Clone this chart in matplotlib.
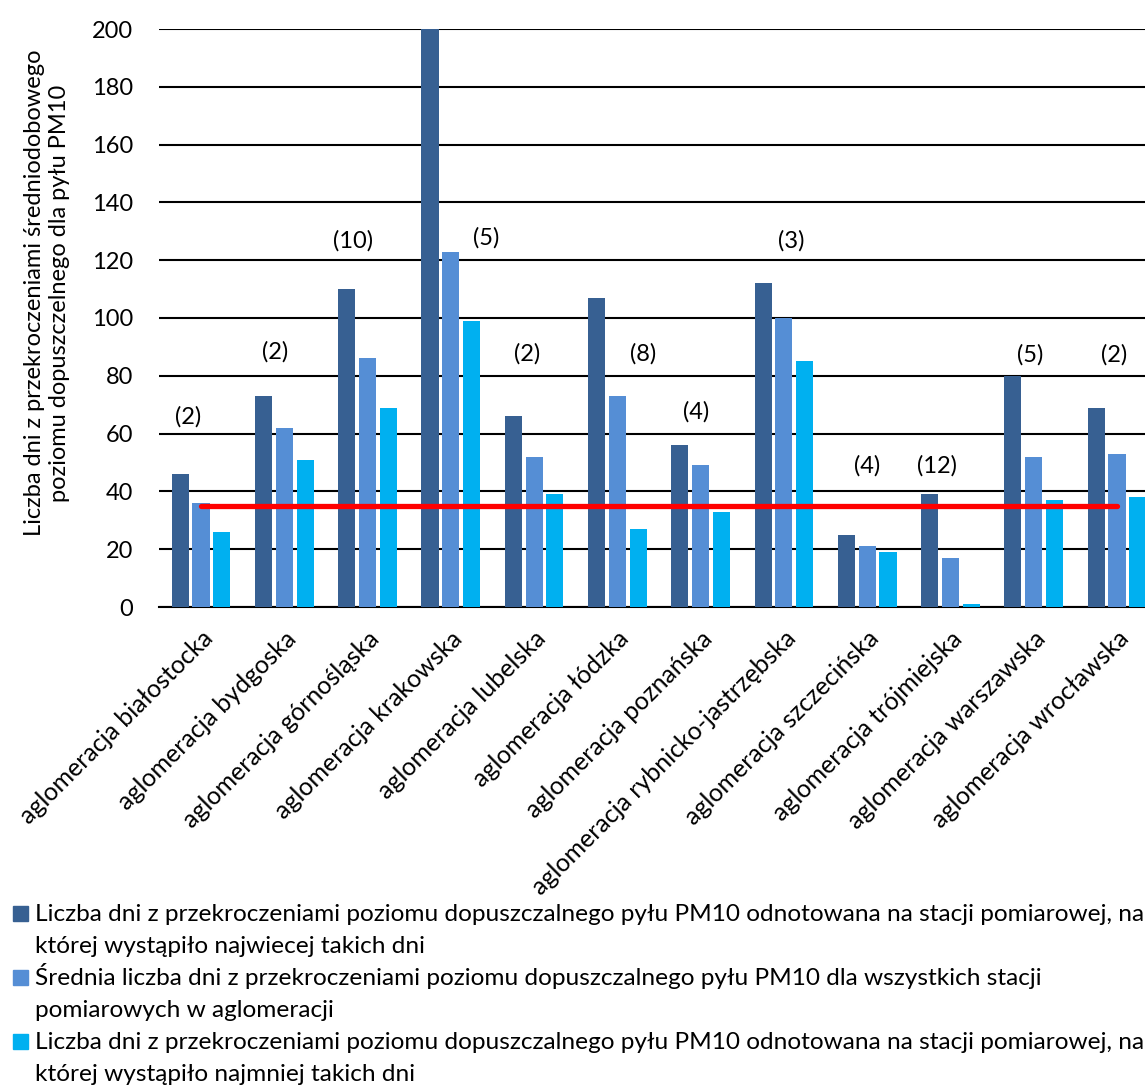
import matplotlib
matplotlib.use("Agg")
import matplotlib.pyplot as plt
import matplotlib.transforms as mtransforms
from matplotlib.patches import Rectangle
import numpy as np

plt.rcParams['font.family'] = ['Lato', 'DejaVu Sans']

# --- data ---
agglomerations = [
    "aglomeracja białostocka", "aglomeracja bydgoska", "aglomeracja górnośląska",
    "aglomeracja krakowska", "aglomeracja lubelska", "aglomeracja łódzka",
    "aglomeracja poznańska", "aglomeracja rybnicko-jastrzębska",
    "aglomeracja szczecińska", "aglomeracja trójmiejska",
    "aglomeracja warszawska", "aglomeracja wrocławska",
]
max_station = [46, 73, 110, 200, 66, 107, 56, 112, 25, 39, 80, 69]
mean_stations = [36, 62, 86, 123, 52, 73, 49, 100, 21, 17, 52, 53]
min_station = [26, 51, 69, 99, 39, 27, 33, 85, 19, 1, 37, 38]
station_counts = [2, 2, 10, 5, 2, 8, 4, 3, 4, 12, 5, 2]
limit_days = 35

series_labels = [
    ["Liczba dni z przekroczeniami poziomu dopuszczalnego pyłu PM10 odnotowana na stacji pomiarowej, na",
     "której wystąpiło najwiecej takich dni"],
    ["Średnia liczba dni z przekroczeniami poziomu dopuszczalnego pyłu PM10 dla wszystkich stacji",
     "pomiarowych w aglomeracji"],
    ["Liczba dni z przekroczeniami poziomu dopuszczalnego pyłu PM10 odnotowana na stacji pomiarowej, na",
     "której wystąpiło najmniej takich dni"],
]
y_title = "Liczba dni z przekroczeniami średniodobowego\npoziomu dopuszczelnego dla pyłu PM10"
y_ticks = list(range(0, 201, 20))

# --- styling ---
colors = ["#376092", "#558ED5", "#00B0F0"]
count_label_pos = [(-0.15, 65.7), (-0.11, 88.2), (-0.17, 126.6), (0.42, 127.7),
                   (-0.08, 87.7), (0.31, 87.7), (-0.06, 67.5), (0.09, 126.6),
                   (0.0, 48.8), (-0.16, 48.8), (-0.04, 87.4), (-0.03, 87.4)]
FS = 17
FS_CAT = 18
FS_LEG = 17.6

W, H = 1145, 1086
fig = plt.figure(figsize=(W / 100, H / 100), dpi=100)
ax = fig.add_axes([159.4 / W, (H - 607) / H, 999.2 / W, 578 / H])

x = np.arange(len(agglomerations))
bar_w = 0.205
step = 0.25
for i, (vals, c) in enumerate(zip([max_station, mean_stations, min_station], colors)):
    ax.bar(x + (i - 1) * step, vals, width=bar_w, color=c, zorder=3)

ax.plot([x[0], x[-1]], [limit_days, limit_days], color="#FF0000", lw=3.8,
        solid_capstyle="round", zorder=4)

for xi, n, (dx, yv) in zip(x, station_counts, count_label_pos):
    ax.text(xi + dx, yv, f"({n})", ha="center", va="center", fontsize=FS, zorder=5)

ax.set_xlim(-0.5, len(agglomerations) - 0.5)
ax.set_ylim(0, 200)
ax.set_yticks(y_ticks)
ax.set_yticklabels([str(t) for t in y_ticks], fontsize=FS)
ax.tick_params(axis="y", length=0, pad=19)
ax.tick_params(axis="x", length=0, pad=0)
ax.grid(axis="y", color="black", lw=1.5, zorder=1)
ax.set_axisbelow(True)
for s in ["top", "right", "left"]:
    ax.spines[s].set_visible(False)
ax.spines["bottom"].set_color("black")
ax.spines["bottom"].set_linewidth(1.5)

ax.set_xticks(x)
ax.set_xticklabels(agglomerations, fontsize=FS_CAT, rotation=45, ha="right",
                   va="center", rotation_mode="anchor")
offset = mtransforms.ScaledTranslation(8 / 100, -28 / 100, fig.dpi_scale_trans)
for lbl in ax.get_xticklabels():
    lbl.set_transform(lbl.get_transform() + offset)

fig.text(47 / W, 1 - 293 / H, y_title, rotation=90, ha="center", va="center",
         fontsize=FS, multialignment="center", linespacing=1.2)

# legend: one swatch per series, two text lines each
row_y = [913, 977, 1041]
line_gap = 32
for c, lines, yc in zip(colors, series_labels, row_y):
    fig.patches.append(Rectangle((13 / W, 1 - (yc + 7.5) / H), 15 / W, 15 / H,
                                 transform=fig.transFigure, color=c))
    for k, line in enumerate(lines):
        fig.text(35 / W, 1 - (yc + 8 + k * line_gap) / H, line, ha="left",
                 va="baseline", fontsize=FS_LEG)

fig.savefig("out.png", dpi=100)
